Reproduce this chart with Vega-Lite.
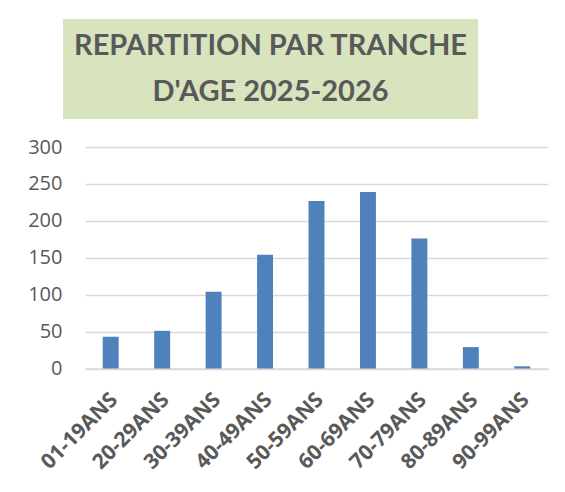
{
  "$schema": "https://vega.github.io/schema/vega-lite/v6.json",
  "background": "white",
  "padding": {"left": 26, "top": 19, "right": 10, "bottom": 5},
  "spacing": 18,
  "center": true,
  "config": {
    "font": "Open Sans",
    "view": {"stroke": null}
  },
  "vconcat": [
    {
      "width": 415,
      "height": 100,
      "view": {"fill": "#d7e4bd", "stroke": null},
      "data": {"values": [
        {"line": 1, "text": "REPARTITION PAR TRANCHE"},
        {"line": 2, "text": "D'AGE 2025-2026"}
      ]},
      "mark": {"type": "text", "font": "Lato", "fontWeight": "bold", "fontSize": 29, "color": "#595959", "baseline": "middle"},
      "encoding": {
        "y": {"field": "line", "type": "ordinal", "scale": {"type": "point", "padding": 0.6},
              "axis": {"orient": "right", "labels": false, "ticks": false, "domain": false, "grid": false, "title": null, "minExtent": 33, "maxExtent": 33}},
        "text": {"field": "text"}
      }
    },
    {
      "spacing": 0,
      "hconcat": [
        {
          "width": 1,
          "height": 1,
          "data": {"values": []},
          "mark": "point"
        },
        {
          "width": 463,
          "height": 221.5,
          "data": {"values": [
            {"tranche": "01-19ANS", "n": 43},
            {"tranche": "20-29ANS", "n": 51},
            {"tranche": "30-39ANS", "n": 104},
            {"tranche": "40-49ANS", "n": 154},
            {"tranche": "50-59ANS", "n": 227},
            {"tranche": "60-69ANS", "n": 239},
            {"tranche": "70-79ANS", "n": 176},
            {"tranche": "80-89ANS", "n": 29},
            {"tranche": "90-99ANS", "n": 3}
          ]},
          "mark": {"type": "bar", "color": "#4f81bd"},
          "encoding": {
            "x": {"field": "tranche", "type": "nominal", "sort": null,
                  "scale": {"paddingInner": 0.69, "paddingOuter": 0.345},
                  "axis": {"title": null, "labelAngle": -45, "labelFontSize": 21, "labelFontWeight": "bold", "labelColor": "#595959",
                           "ticks": false, "tickSize": 0, "labelPadding": 20, "labelOffset": -4, "domainColor": "#d9d9d9", "domainWidth": 1.5}},
            "y": {"field": "n", "type": "quantitative",
                  "scale": {"domain": [0, 300], "nice": false},
                  "axis": {"title": null, "values": [0, 50, 100, 150, 200, 250, 300], "labelFontSize": 20, "labelColor": "#595959",
                           "ticks": false, "tickSize": 0, "labelPadding": 23, "domain": false, "gridColor": "#d9d9d9", "gridWidth": 1.5}}
          }
        }
      ]
    }
  ]
}
